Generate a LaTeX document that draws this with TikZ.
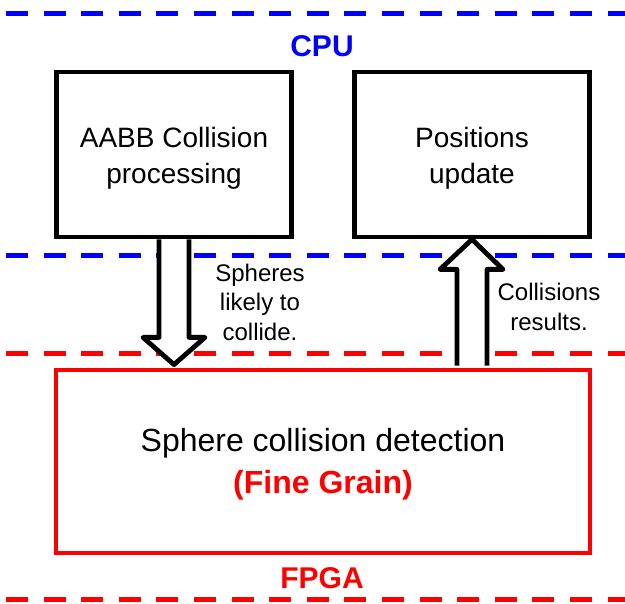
\documentclass[tikz,border=0pt]{standalone}
\usepackage{fontspec}
\setmainfont{Liberation Sans}
\usetikzlibrary{calc}
\definecolor{cpublue}{RGB}{0,0,255}
\definecolor{fpgared}{RGB}{255,0,0}
\begin{document}
\begin{tikzpicture}[x=1pt,y=-1pt,
  sep/.style={line width=5pt, dash pattern=on 22pt off 15.6pt},
  topbox/.style={draw=black, line width=4.8pt, fill=white, minimum width=235pt, minimum height=165pt,
    align=center, inner sep=0pt, font=\fontsize{28}{36}\selectfont},
  fgbox/.style={draw=fpgared, line width=4.8pt, fill=white, minimum width=534pt, minimum height=183pt,
    align=center, inner sep=0pt, font=\fontsize{32}{42}\selectfont},
  zonelabel/.style={font=\fontsize{30}{36}\selectfont\bfseries, inner sep=0pt},
  note/.style={align=center, inner sep=0pt, font=\fontsize{24}{29.5}\selectfont},
  fatarrow/.style={draw=black, fill=white, line width=4.8pt, line join=round}
]
\useasboundingbox (0,0) rectangle (625,604);
% zone separators
\coordinate (t1) at (6,14);   \coordinate (t2) at (625,14);
\coordinate (m1) at (6,256);  \coordinate (m2) at (625,256);
\coordinate (r1) at (6,354);  \coordinate (r2) at (625,354);
\coordinate (b1) at (6,600);  \coordinate (b2) at (625,600);
\draw[sep, cpublue] (t1) -- (t2);
\draw[sep, cpublue] (m1) -- (m2);
\draw[sep, fpgared] (r1) -- (r2);
\draw[sep, fpgared] (b1) -- (b2);

\node[zonelabel, text=cpublue] (cpu) at (322,46) {CPU};
\node[zonelabel, text=fpgared] (fpga) at (322,578) {FPGA};

\node[topbox] (aabb) at (174,154.5) {\rule{0pt}{28pt}AABB Collision\\processing};
\node[topbox] (pos) at (472,154.5) {\rule{0pt}{28pt}Positions\\update};
\node[fgbox] (sphere) at (323,461.5) {\rule{0pt}{29pt}Sphere collision detection\\{\bfseries\color{fpgared}(Fine Grain)}};

% down arrow: AABB -> sphere
\draw[fatarrow] ($(aabb.south)+(-15,0)$) -- ($(aabb.south)+(-15,98)$) -- ($(aabb.south)+(-31,98)$)
  -- ($(sphere.north -| aabb.south)+(0,-3)$) -- ($(aabb.south)+(31,98)$) -- ($(aabb.south)+(15,98)$)
  -- ($(aabb.south)+(15,0)$);
% up arrow: sphere -> positions
\draw[fatarrow] ($(sphere.north -| pos.south)+(-15,-2)$) -- ($(pos.south)+(-15,30)$) -- ($(pos.south)+(-32,30)$)
  -- (pos.south) -- ($(pos.south)+(31,30)$) -- ($(pos.south)+(15,30)$)
  -- ($(sphere.north -| pos.south)+(15,-2)$);

\node[note] (lbl1) at (260,302) {Spheres\\likely to\\collide.};
\node[note] (lbl2) at (549,307) {Collisions\\results.};
\end{tikzpicture}
\end{document}
